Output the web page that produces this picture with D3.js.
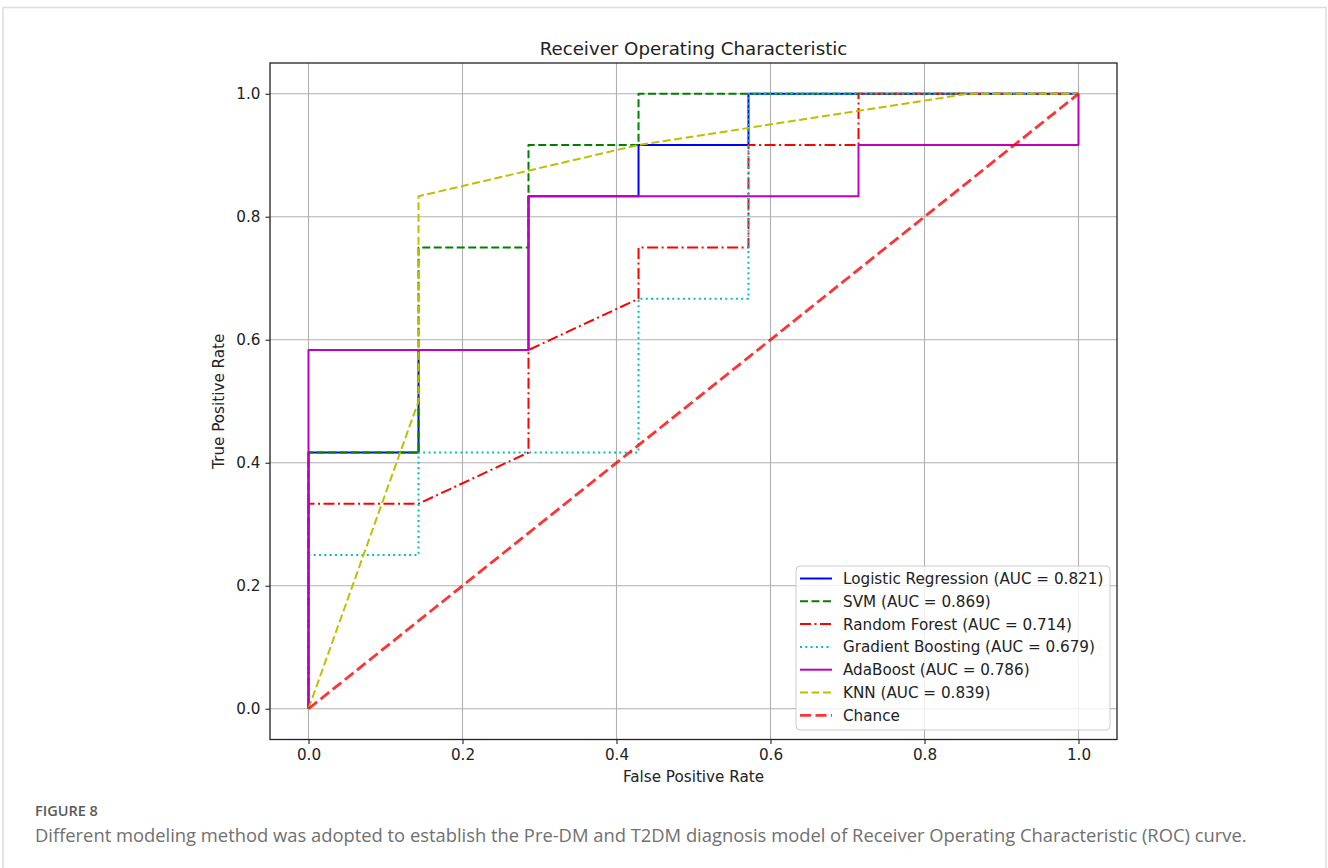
<!DOCTYPE html>
<html>
<head>
<meta charset="utf-8">
<script src="https://cdn.jsdelivr.net/npm/d3@7/dist/d3.min.js"></script>
<style>
  html, body { margin: 0; padding: 0; background: #fff; }
  svg { display: block; }
</style>
</head>
<body>
<svg id="chart" width="1328" height="868"></svg>
<script>
// ---------------- data ----------------
const titleText = "Receiver Operating Characteristic";
const xLabel = "False Positive Rate";
const yLabel = "True Positive Rate";
const tickValues = [0.0, 0.2, 0.4, 0.6, 0.8, 1.0];
const figureLabel = "FIGURE 8";
const captionText = "Different modeling method was adopted to establish the Pre-DM and T2DM diagnosis model of Receiver Operating Characteristic (ROC) curve.";

const modelNames = ["Logistic Regression", "SVM", "Random Forest", "Gradient Boosting", "AdaBoost", "KNN"];
const aucValues = [0.821, 0.869, 0.714, 0.679, 0.786, 0.839];

const lrFpr = [0, 0, 0.1429, 0.1429, 0.2857, 0.2857, 0.4286, 0.4286, 0.5714, 0.5714, 1.0];
const lrTpr = [0, 0.4167, 0.4167, 0.5833, 0.5833, 0.8333, 0.8333, 0.9167, 0.9167, 1.0, 1.0];

const svmFpr = [0, 0, 0.1429, 0.1429, 0.2857, 0.2857, 0.4286, 0.4286, 1.0];
const svmTpr = [0, 0.4167, 0.4167, 0.75, 0.75, 0.9167, 0.9167, 1.0, 1.0];

const rfFpr = [0, 0, 0.1429, 0.2857, 0.2857, 0.4286, 0.4286, 0.5714, 0.5714, 0.7143, 0.7143, 1.0];
const rfTpr = [0, 0.3333, 0.3333, 0.4167, 0.5833, 0.6667, 0.75, 0.75, 0.9167, 0.9167, 1.0, 1.0];

const gbFpr = [0, 0, 0.1429, 0.1429, 0.4286, 0.4286, 0.5714, 0.5714, 1.0];
const gbTpr = [0, 0.25, 0.25, 0.4167, 0.4167, 0.6667, 0.6667, 1.0, 1.0];

const adaFpr = [0, 0, 0.2857, 0.2857, 0.7143, 0.7143, 1.0, 1.0];
const adaTpr = [0, 0.5833, 0.5833, 0.8333, 0.8333, 0.9167, 0.9167, 1.0];

const knnFpr = [0, 0.1429, 0.1429, 0.4286, 0.8571, 1.0];
const knnTpr = [0, 0.5, 0.8333, 0.9167, 1.0, 1.0];

const chanceFpr = [0, 1];
const chanceTpr = [0, 1];

// ---------------- styles ----------------
const series = [
  { name: modelNames[0], auc: aucValues[0], fpr: lrFpr,  tpr: lrTpr,  color: "#0000ff", dash: null,            width: 2 },
  { name: modelNames[1], auc: aucValues[1], fpr: svmFpr, tpr: svmTpr, color: "#008000", dash: "8,3.5",         width: 2 },
  { name: modelNames[2], auc: aucValues[2], fpr: rfFpr,  tpr: rfTpr,  color: "#ff0000", dash: "11,3.5,2,3.5",  width: 2 },
  { name: modelNames[3], auc: aucValues[3], fpr: gbFpr,  tpr: gbTpr,  color: "#00bfbf", dash: "2,3.3",         width: 2 },
  { name: modelNames[4], auc: aucValues[4], fpr: adaFpr, tpr: adaTpr, color: "#bf00bf", dash: null,            width: 2 },
  { name: modelNames[5], auc: aucValues[5], fpr: knnFpr, tpr: knnTpr, color: "#bfbf00", dash: "8,3.5",         width: 2 },
];
const chance = { name: "Chance", fpr: chanceFpr, tpr: chanceTpr, color: "#ff0000", opacity: 0.8, dash: "11,4.5", width: 2.8 };

const svg = d3.select("#chart");
const FONT = "'DejaVu Sans', sans-serif";
const FS = "15.2px";

// card border
svg.append("rect").attr("x", 3).attr("y", 7.5).attr("width", 1323).attr("height", 880)
  .attr("fill", "#fff").attr("stroke", "#dcdcdc").attr("stroke-width", 1.5);

// plot geometry
const pL = 270, pR = 1117, pT = 63, pB = 739.5;
const x = d3.scaleLinear().domain([-0.05, 1.05]).range([pL, pR]);
const y = d3.scaleLinear().domain([-0.05, 1.05]).range([pB, pT]);

const g = svg.append("g");

// grid
g.append("g").selectAll("line").data(tickValues).join("line")
  .attr("x1", d => x(d)).attr("x2", d => x(d)).attr("y1", pT).attr("y2", pB)
  .attr("stroke", "#b0b0b0").attr("stroke-width", 1.1);
g.append("g").selectAll("line").data(tickValues).join("line")
  .attr("y1", d => y(d)).attr("y2", d => y(d)).attr("x1", pL).attr("x2", pR)
  .attr("stroke", "#b0b0b0").attr("stroke-width", 1.1);

// clip
svg.append("clipPath").attr("id", "clip").append("rect")
  .attr("x", pL).attr("y", pT).attr("width", pR - pL).attr("height", pB - pT);

const line = d3.line().x(d => x(d[0])).y(d => y(d[1]));
const curves = g.append("g").attr("clip-path", "url(#clip)");
series.concat([chance]).forEach(s => {
  const pts = s.fpr.map((f, i) => [f, s.tpr[i]]);
  curves.append("path").datum(pts).attr("d", line)
    .attr("fill", "none").attr("stroke", s.color)
    .attr("stroke-opacity", s.opacity || 1)
    .attr("stroke-width", s.width)
    .attr("stroke-dasharray", s.dash)
    .attr("stroke-linejoin", "round")
    .attr("stroke-linecap", "butt");
});

// axes
const fmt = d3.format(".1f");
const xAxis = g.append("g").attr("transform", `translate(0,${pB})`)
  .call(d3.axisBottom(x).tickValues(tickValues).tickFormat(fmt).tickSize(4.5).tickPadding(5));
const yAxis = g.append("g").attr("transform", `translate(${pL},0)`)
  .call(d3.axisLeft(y).tickValues(tickValues).tickFormat(fmt).tickSize(4.5).tickPadding(5));
[xAxis, yAxis].forEach(a => {
  a.select(".domain").remove();
  a.selectAll(".tick line").attr("stroke", "#222").attr("stroke-width", 1.1);
  a.selectAll(".tick text").attr("fill", "#222").style("font-family", FONT).style("font-size", FS);
});

// frame
g.append("rect").attr("x", pL).attr("y", pT).attr("width", pR - pL).attr("height", pB - pT)
  .attr("fill", "none").attr("stroke", "#222").attr("stroke-width", 1.3);

// title & labels
svg.append("text").attr("x", (pL + pR) / 2).attr("y", 54.5).attr("text-anchor", "middle")
  .style("font-family", FONT).style("font-size", "18.2px").attr("fill", "#222").text(titleText);
svg.append("text").attr("x", (pL + pR) / 2).attr("y", 781.5).attr("text-anchor", "middle")
  .style("font-family", FONT).style("font-size", FS).attr("fill", "#222").text(xLabel);
svg.append("text").attr("transform", `translate(223.5,${(pT + pB) / 2}) rotate(-90)`).attr("text-anchor", "middle")
  .style("font-family", FONT).style("font-size", FS).attr("fill", "#222").text(yLabel);

// legend
const lgX = 796, lgY = 566, lgW = 314, lgH = 164, rowH = 22.8;
const lg = svg.append("g");
lg.append("rect").attr("x", lgX).attr("y", lgY).attr("width", lgW).attr("height", lgH).attr("rx", 4)
  .attr("fill", "#fff").attr("fill-opacity", 0.8).attr("stroke", "#cccccc").attr("stroke-width", 1);
const legendItems = series.map(s => ({ label: `${s.name} (AUC = ${s.auc.toFixed(3)})`, s }))
  .concat([{ label: chance.name, s: chance }]);
legendItems.forEach((it, i) => {
  const cy = lgY + 12.5 + i * rowH;
  lg.append("line").attr("x1", 800).attr("x2", 832).attr("y1", cy).attr("y2", cy)
    .attr("stroke", it.s.color).attr("stroke-opacity", it.s.opacity || 1)
    .attr("stroke-width", it.s.width).attr("stroke-dasharray", it.s.dash);
  lg.append("text").attr("x", 843).attr("y", cy).attr("dy", "0.36em")
    .style("font-family", FONT).style("font-size", FS).attr("fill", "#222").text(it.label);
});

// caption
const CAP_FONT = "'Open Sans', 'Noto Sans', sans-serif";
svg.append("text").attr("x", 35).attr("y", 815.5)
  .style("font-family", CAP_FONT).style("font-size", "14.5px").style("font-weight", 600)
  .attr("fill", "#5a5a5a").text(figureLabel);
const cap = svg.append("text").attr("x", 35).attr("y", 841.5)
  .style("font-family", CAP_FONT).style("font-size", "16px")
  .attr("fill", "#707070").text(captionText);
const cw = cap.node().getComputedTextLength();
const targetW = 1213;
cap.style("font-size", (16 * targetW / cw).toFixed(2) + "px");
</script>
</body>
</html>
